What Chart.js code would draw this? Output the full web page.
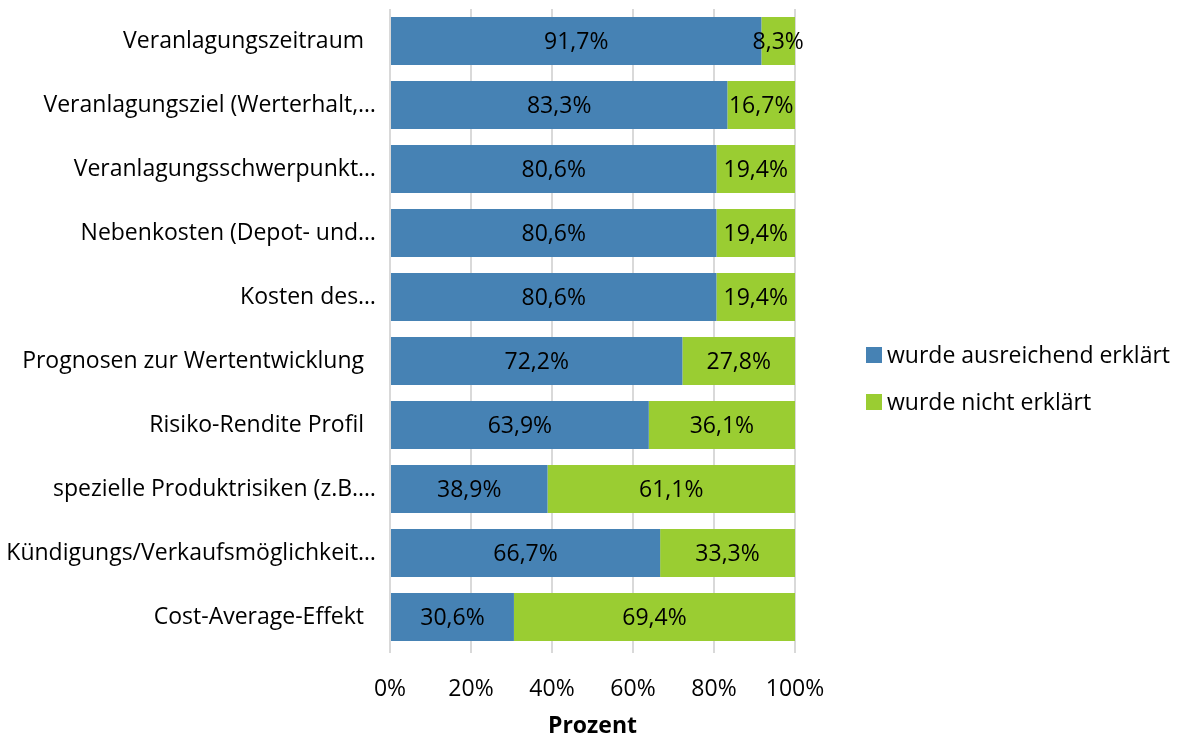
<!DOCTYPE html>
<html>
<head>
<meta charset="utf-8">
<script src="https://cdn.jsdelivr.net/npm/chart.js@4"></script>
<style>
  html, body { margin: 0; padding: 0; background: #fff; }
  #wrap { width: 1181px; height: 735px; }
</style>
</head>
<body>
<div id="wrap"><canvas id="chart"></canvas></div>
<script>
// categories (trailing spaces like in the original labels)
const categories = [
  'Veranlagungszeitraum  ',
  'Veranlagungsziel (Werterhalt,…',
  'Veranlagungsschwerpunkt…',
  'Nebenkosten (Depot- und…',
  'Kosten des…',
  'Prognosen zur Wertentwicklung  ',
  'Risiko-Rendite Profil  ',
  'spezielle Produktrisiken (z.B.…',
  'Kündigungs/Verkaufsmöglichkeit…',
  'Cost-Average-Effekt  '
];
const explained = [91.7, 83.3, 80.6, 80.6, 80.6, 72.2, 63.9, 38.9, 66.7, 30.6];
const notExplained = [8.3, 16.7, 19.4, 19.4, 19.4, 27.8, 36.1, 61.1, 33.3, 69.4];
const seriesNames = ['wurde ausreichend erklärt', 'wurde nicht erklärt'];
const seriesColors = ['#4682B4', '#9ACD32'];
const xTicks = [0, 20, 40, 60, 80, 100];

const FONT = 'Open Sans';
const SIZE = 23;
const fmt = v => v.toFixed(1).replace('.', ',') + '%';

// labels in the middle of every segment
const barLabels = {
  id: 'barLabels',
  afterDatasetsDraw(chart) {
    const ctx = chart.ctx;
    ctx.save();
    ctx.font = SIZE + 'px "' + FONT + '"';
    ctx.fillStyle = '#000';
    ctx.textAlign = 'center';
    ctx.textBaseline = 'middle';
    chart.data.datasets.forEach((ds, i) => {
      chart.getDatasetMeta(i).data.forEach((bar, j) => {
        const p = bar.getCenterPoint();
        ctx.fillText(fmt(ds.data[j]), p.x, p.y + 1);
      });
    });
    ctx.restore();
  }
};

// legend to the right of the plot (the built-in one gets squeezed)
const sideLegend = {
  id: 'sideLegend',
  afterDraw(chart) {
    const ctx = chart.ctx;
    const a = chart.chartArea;
    const x = a.right + 71;
    const y0 = (a.top + a.bottom) / 2 + 26;
    ctx.save();
    ctx.font = SIZE + 'px "' + FONT + '"';
    ctx.textBaseline = 'middle';
    ctx.textAlign = 'left';
    chart.data.datasets.forEach((ds, i) => {
      const y = y0 + i * 47;
      ctx.fillStyle = ds.backgroundColor;
      ctx.fillRect(x, y - 8, 16, 16);
      ctx.fillStyle = '#000';
      ctx.fillText(ds.label, x + 21, y + 1);
    });
    ctx.restore();
  }
};

new Chart(document.getElementById('chart'), {
  type: 'bar',
  data: {
    labels: categories,
    datasets: [
      { label: seriesNames[0], data: explained, backgroundColor: seriesColors[0] },
      { label: seriesNames[1], data: notExplained, backgroundColor: seriesColors[1] }
    ]
  },
  options: {
    indexAxis: 'y',
    responsive: true,
    maintainAspectRatio: false,
    animation: false,
    categoryPercentage: 0.75,
    barPercentage: 1,
    layout: { padding: { top: 9, left: 0, right: 386, bottom: 0 } },
    scales: {
      x: {
        stacked: true,
        min: 0,
        max: 100,
        afterBuildTicks: axis => { axis.ticks = xTicks.map(v => ({ value: v })); },
        afterFit: axis => { axis.height = 86; },
        ticks: {
          font: { family: FONT, size: SIZE },
          color: '#000',
          padding: 23,
          callback: v => v + '%'
        },
        grid: { color: '#d9d9d9', lineWidth: 2, tickLength: 4 },
        border: { display: false },
        title: {
          display: true,
          text: 'Prozent',
          font: { family: FONT, size: SIZE, weight: 'bold', lineHeight: 1 },
          color: '#000',
          padding: { top: 0, bottom: -3 }
        }
      },
      y: {
        stacked: true,
        afterFit: axis => {
          axis.width = 390;
          axis.paddingTop = 0;
          axis.paddingBottom = 0;
        },
        ticks: {
          font: { family: FONT, size: SIZE },
          color: '#000',
          padding: 6
        },
        grid: { display: false },
        border: { display: false }
      }
    },
    plugins: {
      legend: { display: false },
      tooltip: { enabled: false }
    }
  },
  plugins: [barLabels, sideLegend]
});
</script>
</body>
</html>
